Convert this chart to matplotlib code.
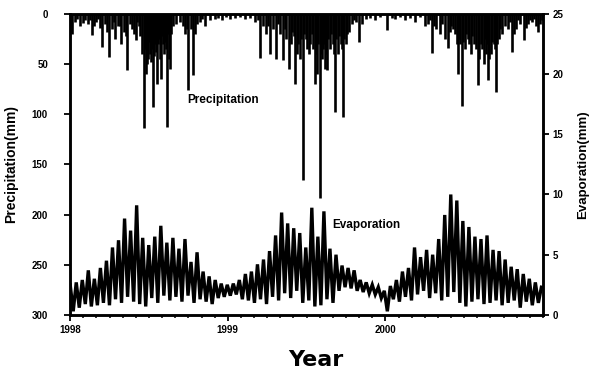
import matplotlib
matplotlib.use("Agg")
import matplotlib.pyplot as plt
import numpy as np
from matplotlib.ticker import MultipleLocator, FixedLocator

# ---- data ----
start_year = 1998
year_ticks = [1998, 1999, 2000]
year_labels = ["1998", "1999", "2000"]

# precipitation events: day index since 1998-01-01, amount in mm
precip_day = [5, 12, 23, 35, 42, 51, 60, 69, 74, 81, 90, 97, 104, 111, 118, 125,
              132, 139, 148, 155, 162, 171, 176, 181, 185, 192, 197, 201, 206, 211,
              215, 225, 232, 239, 255, 266, 273, 280, 285, 294, 301, 313, 324, 336,
              352, 371,
              428, 440, 447, 454, 463, 470, 477, 486, 493, 500, 507, 514, 521, 528,
              533, 540, 547, 554, 560, 567, 572, 579, 586, 591, 595, 602, 609, 614,
              621, 628, 632, 639, 646, 653, 662, 669, 676, 686, 706, 734, 753, 776,
              799, 822,
              829, 838, 848, 857, 868, 875, 882, 892, 899, 903, 908, 915, 922, 929,
              936, 945, 952, 959, 963, 968, 975, 982, 987, 994, 1001, 1007, 1014,
              1024, 1033, 1042, 1051, 1061, 1070, 1079, 1089,
              16, 30, 46, 56, 65, 86, 102, 116, 130, 144, 153, 160, 167, 174, 178,
              183, 188, 190, 195, 199, 204, 208, 213, 218, 220, 222, 227, 229, 234,
              246, 262, 271, 289, 306, 343, 361, 382, 394, 405, 417,
              435, 459, 482, 498, 512, 519, 526, 535, 542, 549, 556, 563, 570, 574,
              581, 584, 588, 593, 597, 605, 611, 616, 623, 630, 635, 642, 657, 695,
              718, 746, 764, 787, 811,
              834, 843, 862, 880, 887, 896, 901, 910, 917, 924, 931, 940, 947, 954,
              961, 966, 970, 977, 984, 989, 996, 1019, 1028, 1038, 1056, 1065, 1075,
              1084, 1093]
precip_mm = [20, 8, 12, 6, 10, 21, 8, 14, 33, 10, 43, 15, 25, 12, 30, 18,
             56, 10, 20, 8, 22, 114, 60, 45, 40, 93, 30, 70, 25, 65,
             30, 113, 55, 12, 8, 20, 76, 15, 61, 10, 8, 12, 6, 5,
             6, 5,
             8, 44, 12, 20, 40, 15, 45, 20, 46, 25, 55, 18, 70, 30,
             45, 166, 25, 40, 20, 70, 60, 184, 35, 55, 56, 35, 30, 98,
             40, 30, 103, 30, 18, 10, 8, 28, 10, 5, 6, 16, 5, 6,
             8, 12,
             10, 39, 15, 20, 25, 34, 12, 20, 60, 30, 92, 35, 25, 40,
             30, 71, 30, 50, 40, 66, 40, 30, 78, 25, 20, 12, 15,
             38, 15, 10, 26, 10, 8, 12, 10,
             5, 9, 6, 12, 5, 18, 8, 12, 22, 15, 26, 12, 40, 35, 50,
             28, 48, 35, 42, 38, 30, 45, 22, 40, 28, 35, 20, 45, 20,
             10, 12, 15, 20, 5, 4, 3, 4, 3, 5, 4,
             6, 12, 10, 15, 30, 22, 40, 25, 20, 35, 30, 35, 40, 30,
             40, 45, 30, 40, 25, 20, 40, 25, 22, 35, 25, 20, 6, 4,
             3, 4, 3, 4, 3,
             6, 12, 10, 18, 15, 30, 25, 28, 20, 30, 22, 35, 45, 35,
             25, 30, 45, 28, 35, 30, 15, 8, 20, 6, 14, 6, 5,
             18, 6]

# evaporation, weekly readings (mm), starting 1998-01-01
evap_mm = [2.5, 0.3, 2.7, 0.6, 2.9, 0.9, 3.7, 0.7, 3.0, 0.8, 3.9, 1.0, 4.5, 0.8, 5.6, 1.3,
           6.2, 1.0, 8.0, 1.5, 7.0, 1.1, 9.1, 0.9, 6.4, 0.7, 5.8, 1.4, 6.5, 1.0, 7.4, 1.6,
           6.0, 1.2, 6.4, 1.5, 5.5, 1.1, 6.3, 1.6, 4.4, 1.0, 5.2, 1.3, 3.6, 1.1, 3.2, 0.9,
           2.9, 1.4, 2.6, 1.5, 2.5, 1.6, 2.6, 1.7, 2.9, 1.3, 3.4, 1.2, 3.6, 1.0, 4.2, 1.3,
           4.6, 0.9, 5.3, 1.5, 6.6, 1.2, 8.5, 1.8, 7.6, 1.4, 7.2, 2.0, 6.8, 1.0, 5.6, 1.2,
           8.9, 0.7, 6.5, 0.8, 8.6, 1.3, 5.5, 1.0, 5.0, 2.0, 4.1, 2.3, 3.9, 2.2, 3.7, 2.0,
           2.9, 1.9, 2.7, 1.8, 2.5, 1.7, 2.3, 1.4, 2.0, 0.3, 2.4, 1.3, 2.9, 1.1, 3.6, 1.5,
           3.9, 1.2, 5.6, 1.7, 4.8, 2.0, 5.4, 1.4, 5.0, 1.8, 6.3, 1.2, 8.3, 1.5, 10.0, 1.9,
           9.5, 1.0, 7.8, 0.7, 7.3, 1.1, 6.5, 1.3, 6.3, 0.9, 6.6, 1.0, 5.4, 1.2, 5.3, 0.8,
           4.6, 1.0, 4.0, 1.2, 3.8, 0.6, 3.4, 1.1, 3.0, 0.8, 2.7, 1.0, 2.3]

# ---- figure ----
fig = plt.figure(figsize=(6.0, 3.74), dpi=100)
ax = fig.add_axes([0.117, 0.158, 0.788, 0.805])
ax2 = ax.twinx()

px = start_year + np.array(precip_day) / 365.25
ax.vlines(px, 0, precip_mm, color="black", lw=1.9)
ax.set_ylim(300, 0)
ax.set_xlim(1998, 2001)

ex = start_year + 7 * np.arange(len(evap_mm)) / 365.25
ax2.plot(ex, evap_mm, color="black", lw=2.4, solid_joinstyle="miter")
ax2.set_ylim(0, 25)

fb = "Liberation Sans"
ax.xaxis.set_major_locator(FixedLocator(year_ticks))
ax.set_xticklabels(year_labels, fontsize=6.5, fontweight="bold", family=fb)
ax.xaxis.set_minor_locator(MultipleLocator(1 / 12))
ax.yaxis.set_major_locator(MultipleLocator(50))
ax2.yaxis.set_major_locator(MultipleLocator(5))
for a in (ax, ax2):
    a.tick_params(direction="out", length=4, width=1.3, labelsize=7, pad=3)
    a.tick_params(which="minor", direction="out", length=2.5, width=1.1)
    for s in a.spines.values():
        s.set_linewidth(1.8)
ax.tick_params(axis="y", pad=12)
for lab in ax.get_yticklabels() + ax2.get_yticklabels():
    lab.set_fontweight("bold")
    lab.set_family(fb)

ax.set_ylabel("Precipitation(mm)", fontsize=10, fontweight="bold", family=fb, labelpad=10)
ax2.set_ylabel("Evaporation(mm)", fontsize=9.5, fontweight="bold", family=fb, labelpad=10)
ax.set_xlabel("Year", fontsize=16, fontweight="bold", family="DejaVu Sans", labelpad=10)
ax.xaxis.set_label_coords(0.52, -0.115)

ax.text(1998 + (187 - 70) / 157.7, 86, "Precipitation", fontsize=8.5,
        fontweight="bold", family=fb, va="center", ha="left")
ax2.text(1998 + (332 - 70) / 157.7, 7.5, "Evaporation", fontsize=8.5,
         fontweight="bold", family=fb, va="center", ha="left")

fig.savefig("out.png", dpi=100)
